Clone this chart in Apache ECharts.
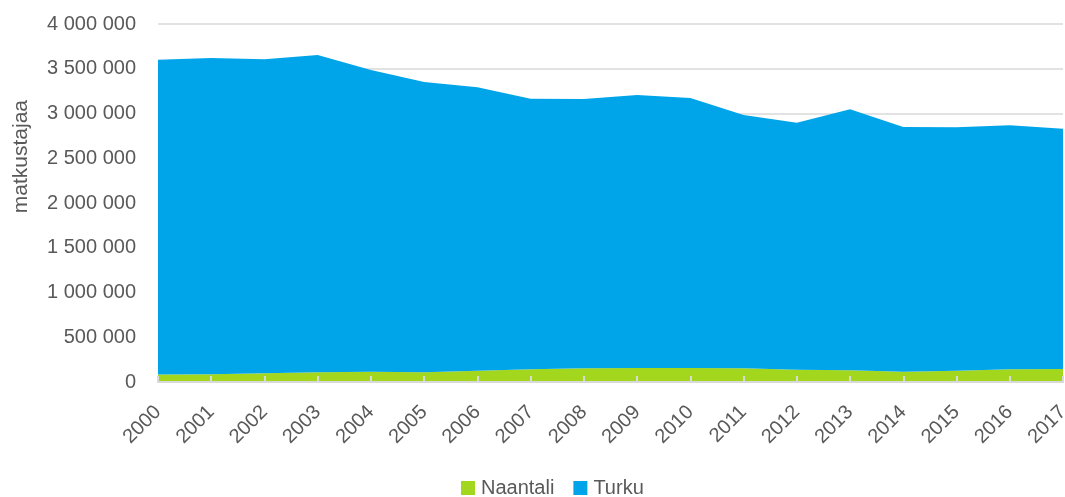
<!DOCTYPE html>
<html>
<head>
<meta charset="utf-8">
<script src="https://cdn.jsdelivr.net/npm/echarts@6/dist/echarts.min.js"></script>
<style>
  html, body { margin: 0; padding: 0; background: #fff; }
  #chart { width: 1065px; height: 497px; }
</style>
</head>
<body>
<div id="chart"></div>
<script>
// Passengers per port, stacked areas
const years = ['2000','2001','2002','2003','2004','2005','2006','2007','2008',
               '2009','2010','2011','2012','2013','2014','2015','2016','2017'];
const naantali = [85000, 86000, 97000, 108000, 115000, 108000, 126000, 142000, 153000,
                  156000, 156000, 153000, 137000, 131000, 115000, 126000, 142000, 145000];
const turku = [3515000, 3534000, 3509000, 3546000, 3371000, 3244000, 3167000, 3024000, 3009000,
               3051000, 3017000, 2830000, 2760000, 2916000, 2734000, 2720000, 2726000, 2685000];
const yTicks = [0, 500000, 1000000, 1500000, 2000000, 2500000, 3000000, 3500000, 4000000];

const FONT = '"Liberation Sans", Arial, sans-serif';
const TXT = '#595959';

function fmt(v) {
  return String(v).replace(/\B(?=(\d{3})+(?!\d))/g, ' ');
}

const chart = echarts.init(document.getElementById('chart'), null, { renderer: 'canvas' });
chart.setOption({
  animation: false,
  textStyle: { fontFamily: FONT },
  grid: { left: 158, right: 2, top: 24, bottom: 115, containLabel: false, outerBoundsMode: 'none' },
  legend: {
    top: 478,
    left: 461,
    icon: 'rect',
    itemWidth: 14,
    itemHeight: 14,
    itemGap: 19,
    itemStyle: { borderWidth: 0 },
    textStyle: { color: TXT, fontSize: 20, fontFamily: FONT, padding: [0, 0, 0, 1] },
    padding: 0,
    data: ['Naantali', 'Turku']
  },
  xAxis: {
    type: 'category',
    data: years,
    boundaryGap: false,
    axisLine: { lineStyle: { color: '#d9d9d9', width: 2 } },
    axisTick: { inside: true, length: 6, lineStyle: { color: '#d9d9d9', width: 2 } },
    axisLabel: { color: TXT, fontSize: 20, rotate: 45, margin: 27, interval: 0 },
    z: 5
  },
  yAxis: {
    type: 'value',
    min: yTicks[0],
    max: yTicks[yTicks.length - 1],
    interval: yTicks[1] - yTicks[0],
    axisLine: { show: false },
    axisTick: { show: false },
    splitLine: { lineStyle: { color: '#d9d9d9', width: 1.5 } },
    axisLabel: { color: TXT, fontSize: 20, margin: 22, formatter: fmt }
  },
  graphic: [{
    type: 'text',
    left: 11,
    top: 100,
    rotation: Math.PI / 2,
    style: { text: 'matkustajaa', fill: TXT, font: '21px ' + FONT }
  }],
  series: [
    {
      name: 'Naantali',
      type: 'line',
      stack: 'total',
      data: naantali,
      symbol: 'none',
      lineStyle: { width: 0 },
      areaStyle: { color: '#a2d71e', opacity: 1 },
      itemStyle: { color: '#a2d71e' }
    },
    {
      name: 'Turku',
      type: 'line',
      stack: 'total',
      data: turku,
      symbol: 'none',
      lineStyle: { width: 0 },
      areaStyle: { color: '#00a5e9', opacity: 1 },
      itemStyle: { color: '#00a5e9' }
    }
  ]
});
</script>
</body>
</html>
